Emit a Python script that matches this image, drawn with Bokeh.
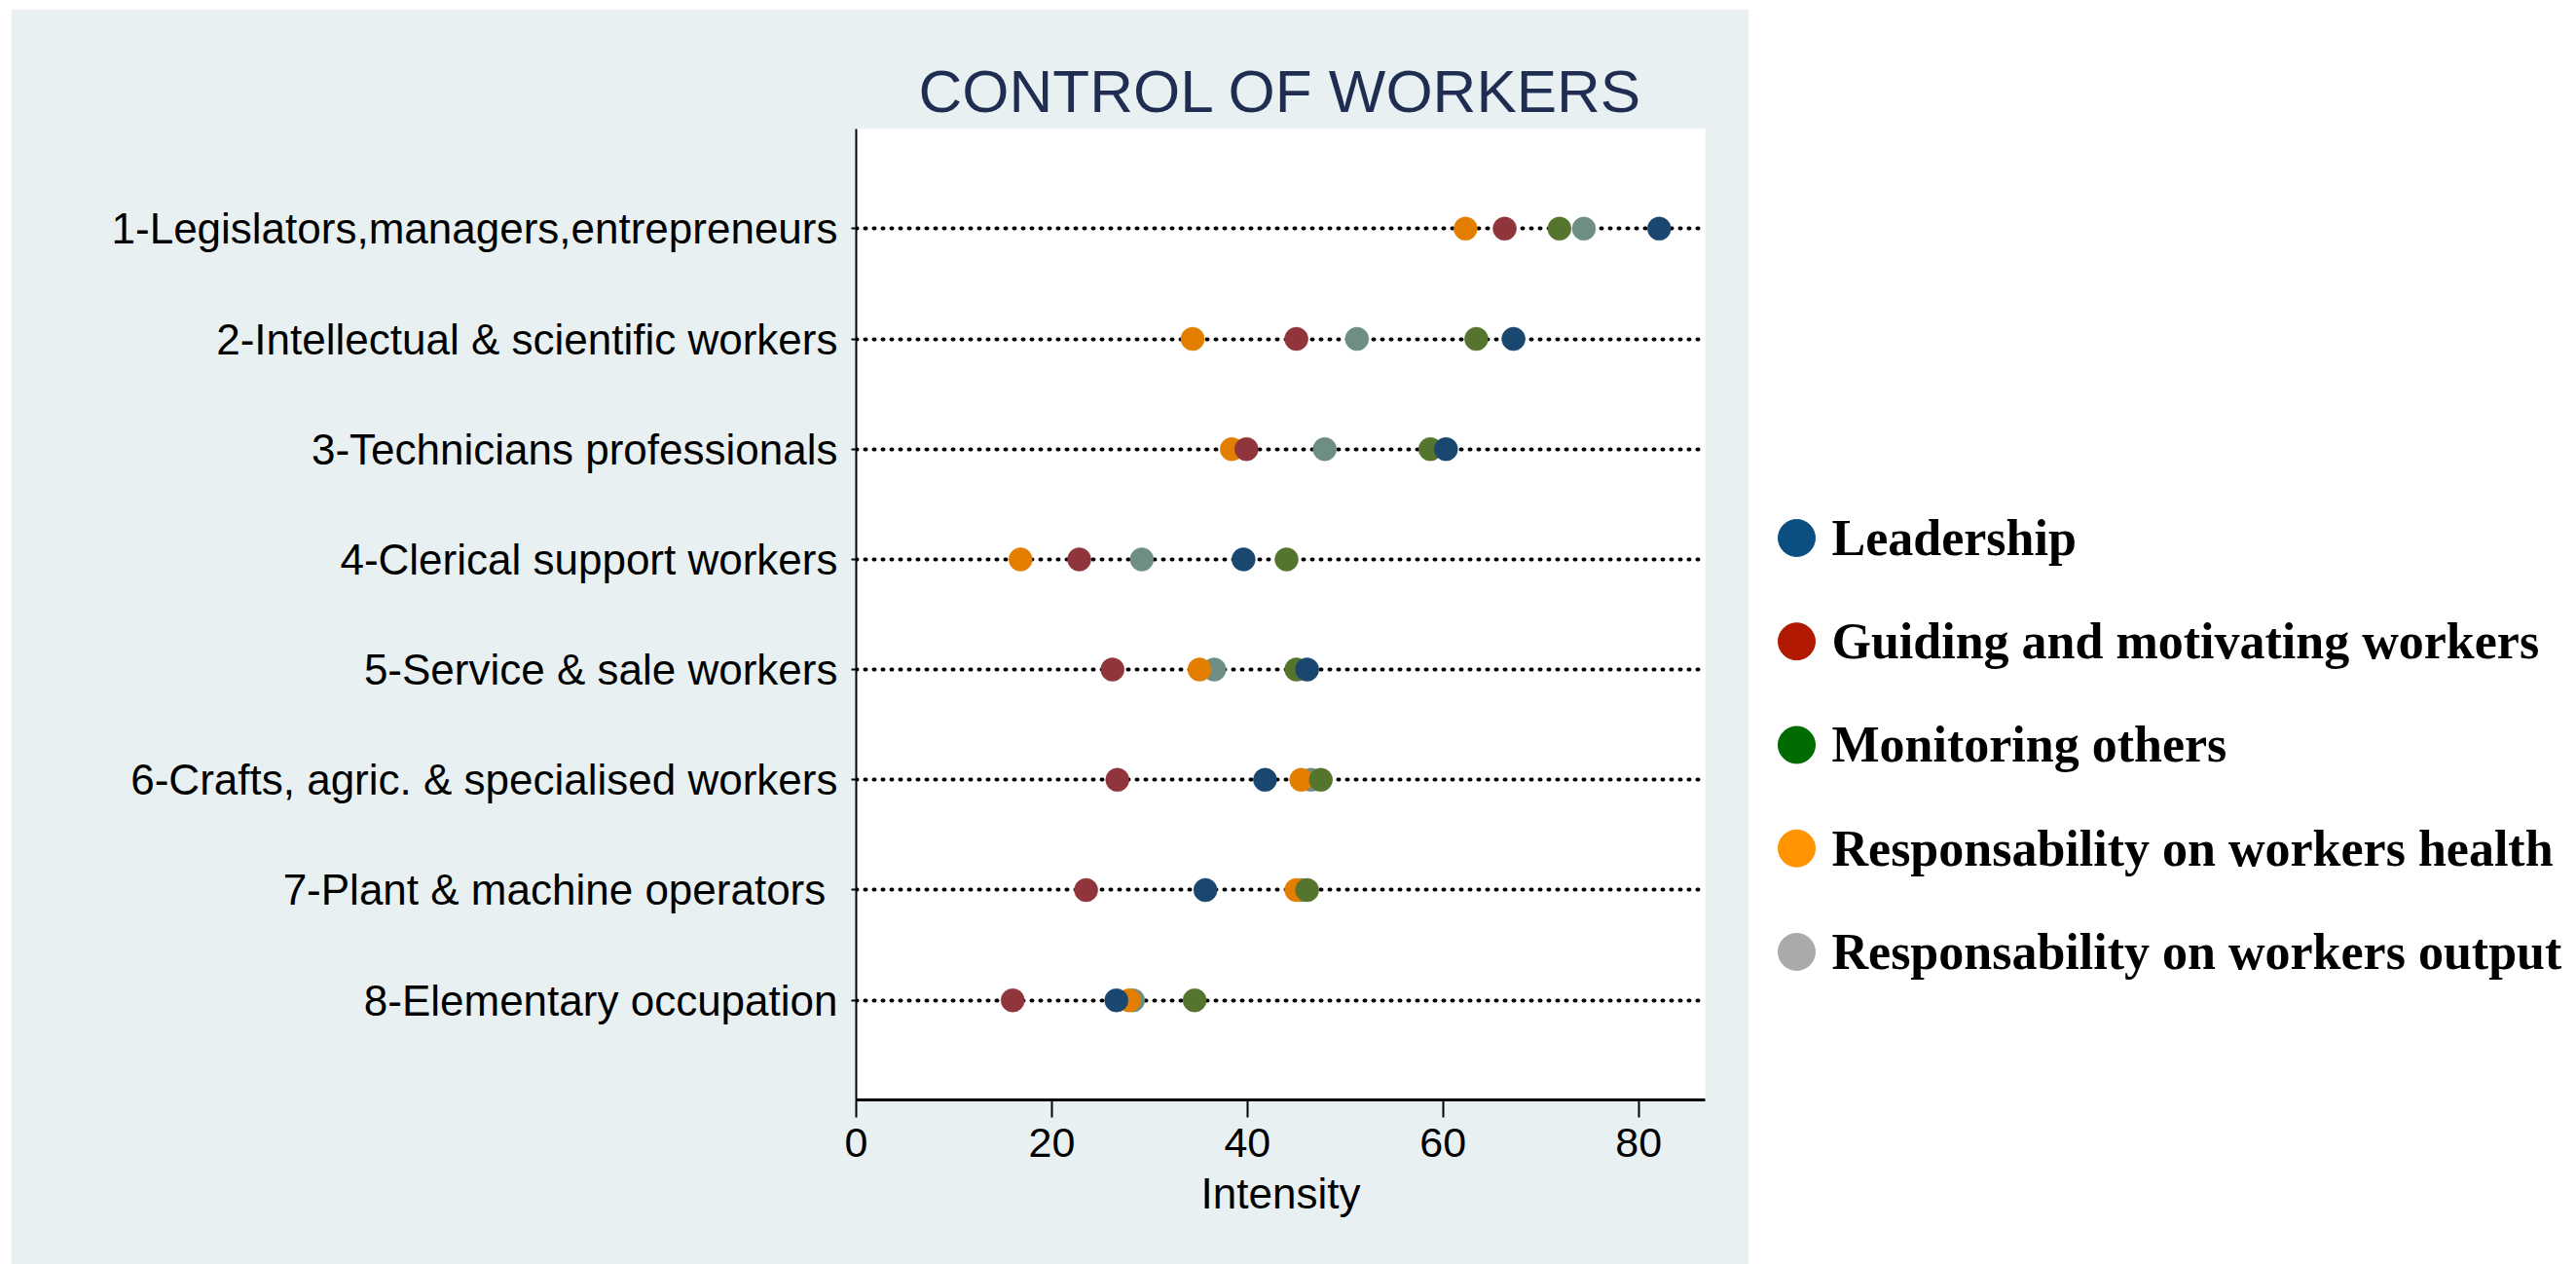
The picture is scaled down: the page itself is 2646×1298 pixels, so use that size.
from bokeh.plotting import figure
from bokeh.models import Range1d, FixedTicker, ColumnDataSource
from bokeh.core.properties import value
from bokeh.layouts import row
from bokeh.embed import file_html
from bokeh.resources import INLINE

# ---------------- data ----------------
categories = [
    "1-Legislators,managers,entrepreneurs",
    "2-Intellectual & scientific workers",
    "3-Technicians professionals",
    "4-Clerical support workers",
    "5-Service & sale workers",
    "6-Crafts, agric. & specialised workers",
    "7-Plant & machine operators ",
    "8-Elementary occupation",
]
row_pos = [1, 2, 3, 4, 5, 6, 7, 8]

leadership = [82.1, 67.2, 60.3, 39.6, 46.1, 41.8, 35.7, 26.6]
guiding = [66.3, 45.0, 39.9, 22.8, 26.2, 26.7, 23.5, 16.0]
monitoring = [71.9, 63.4, 58.7, 44.0, 45.0, 47.5, 46.1, 34.6]
health = [62.3, 34.4, 38.4, 16.8, 35.1, 45.5, 45.0, 27.9]
output = [74.4, 51.2, 47.9, 29.2, 36.6, 46.5, 45.5, 28.3]

x_ticks = [0, 20, 40, 60, 80]

legend_labels = [
    " Leadership",
    "Guiding and motivating workers",
    " Monitoring others",
    "Responsability on workers health",
    "Responsability on workers output",
]
legend_colors = ["#0b4f80", "#b11a00", "#006b00", "#ff9400", "#aaaaaa"]
legend_rows = list(range(1, len(legend_labels) + 1))

# chart colours (drawing order: output, health, monitoring, guiding, leadership)
series = [
    (output, "#6e8e84"),
    (health, "#e37e00"),
    (monitoring, "#55752f"),
    (guiding, "#90353b"),
    (leadership, "#1a476f"),
]

PANEL = "#e8f0f2"

# ---------------- main chart ----------------
p = figure(
    width=1785, height=1289,
    x_range=Range1d(0, 86.8), y_range=Range1d(8.904, 0.096),
    toolbar_location=None, output_backend="svg",
    min_border_left=868, min_border_right=45,
    min_border_top=123, min_border_bottom=169,
)
p.margin = (9, 0, 0, 11)
p.background_fill_color = "white"
p.border_fill_color = PANEL
p.outline_line_color = None

p.title.text = "CONTROL OF WORKERS"
p.title.text_font = "Liberation Sans"
p.title.text_font_size = "62px"
p.title.text_font_style = "normal"
p.title.text_color = "#1f2d52"
p.title.align = "center"

# y axis
p.yaxis.ticker = FixedTicker(ticks=row_pos)
p.yaxis.major_label_overrides = {r: c for r, c in zip(row_pos, categories)}
p.yaxis.major_label_text_font = "Liberation Sans"
p.yaxis.major_label_text_font_size = "44px"
p.yaxis.major_label_text_color = "black"
p.yaxis.major_tick_out = 5
p.yaxis.major_tick_in = 0
p.yaxis.minor_tick_line_color = None
p.yaxis.major_label_standoff = 14
p.yaxis.axis_line_width = 2
p.yaxis.axis_line_color = "black"
p.yaxis.major_tick_line_width = 2

# x axis
p.xaxis.ticker = FixedTicker(ticks=x_ticks)
p.xaxis.axis_label = "Intensity"
p.xaxis.axis_label_text_font = "Liberation Sans"
p.xaxis.axis_label_text_font_size = "44px"
p.xaxis.axis_label_text_font_style = "normal"
p.xaxis.axis_label_text_color = "black"
p.xaxis.axis_label_standoff = 10
p.xaxis.major_label_text_font = "Liberation Sans"
p.xaxis.major_label_text_font_size = "43px"
p.xaxis.major_label_text_color = "black"
p.xaxis.major_label_standoff = 11
p.xaxis.major_tick_out = 18
p.xaxis.major_tick_in = 0
p.xaxis.major_tick_line_width = 2
p.xaxis.minor_tick_line_color = None
p.xaxis.axis_line_width = 3
p.xaxis.axis_line_color = "black"

# grids: dotted row lines only
p.xgrid.grid_line_color = None
p.ygrid.grid_line_color = "black"
p.ygrid.grid_line_width = 4
p.ygrid.grid_line_dash = "1 8"
p.ygrid.grid_line_cap = "round"

for vals, col in series:
    src = ColumnDataSource(dict(x=vals, y=row_pos))
    p.scatter("x", "y", source=src, size=24, fill_color=col, line_color=col, line_width=0.5)

# ---------------- legend panel ----------------
# (its plot frame is aligned with the main frame by the row layout)
p2 = figure(
    width=850, height=1289, toolbar_location=None, output_backend="svg",
    x_axis_type=None, y_axis_type=None, min_border=0,
    x_range=Range1d(-49, 801), y_range=Range1d(6.431, -2.953),
)
p2.margin = (9, 0, 0, 0)
p2.outline_line_color = None
p2.background_fill_color = "white"
p2.border_fill_color = "white"
p2.xgrid.visible = False
p2.ygrid.visible = False

lsrc = ColumnDataSource(dict(
    x=[0] * len(legend_labels), y=legend_rows,
    label=legend_labels, color=legend_colors,
))
p2.scatter("x", "y", source=lsrc, size=38, fill_color="color", line_color="color")
p2.text("x", "y", text="label", source=lsrc, x_offset=36,
        text_font=value("Liberation Serif"), text_font_style="bold",
        text_font_size="52px", text_color="black",
        text_align="left", text_baseline="middle")

layout = row(p, p2)
open("out.html", "w").write(file_html(layout, INLINE))
